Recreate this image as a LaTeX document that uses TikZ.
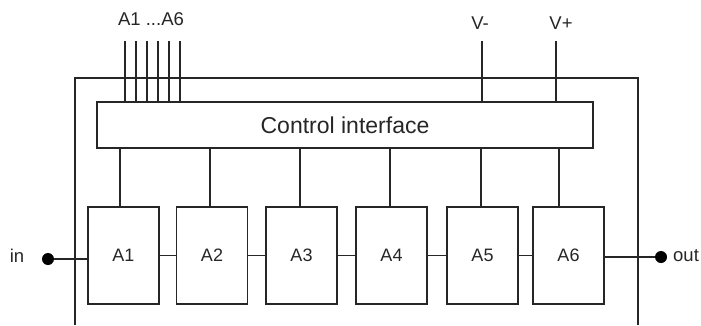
\documentclass[tikz,border=0pt]{standalone}
\usepackage{fontspec}
\setmainfont{Liberation Sans}
\begin{document}
\begin{tikzpicture}[x=1pt,y=-1pt,
  wire/.style={draw=black!85,line width=1.1pt},
  extwire/.style={draw=black!85,line width=1.6pt},
  stage/.style={draw=black!85,line width=1.1pt,minimum width=71pt,minimum height=97pt,
    inner sep=0pt,font=\fontsize{18}{18}\selectfont,text=black!85},
  ctrlbox/.style={draw=black!85,line width=1.1pt,minimum width=496pt,minimum height=46pt,
    inner sep=0pt,font=\fontsize{23}{23}\selectfont,text=black!85},
  lbl/.style={inner sep=0pt,font=\fontsize{18.5}{18.5}\selectfont,text=black!85},
  port/.style={circle,fill=black,inner sep=0pt,minimum size=12pt}]
\useasboundingbox (0,0) rectangle (701,325);

% housing (open at the bottom)
\draw[wire] (75,325) -- (75,78) -- (638,78) -- (638,325);

% control interface
\node[ctrlbox] (ctrl) at (345,125) {Control interface};

% amplifier stages
\node[stage] (A1) at (123.5,255.5) {A1};
\node[stage] (A2) at (212,255.5) {A2};
\node[stage] (A3) at (301.5,255.5) {A3};
\node[stage] (A4) at (391.5,255.5) {A4};
\node[stage] (A5) at (482.5,255.5) {A5};
\node[stage] (A6) at (568.5,255.5) {A6};

% chain between stages
\foreach \a/\b in {A1/A2,A2/A3,A3/A4,A4/A5,A5/A6}
  \draw[wire] (\a.east) -- (\b.west);

% control taps to each stage
\foreach \s/\x in {A1/120,A2/210,A3/300,A4/390,A5/481,A6/559}{
  \coordinate (t\s) at (\x,0);
  \draw[wire] (t\s |- ctrl.south) -- (t\s |- \s.north);
}

% control inputs A1...A6
\node[lbl] (alab) at (151,19) {A1 ...A6};
\foreach \i/\x in {1/125,2/136,3/147,4/158,5/169,6/180}{
  \coordinate (c\i) at (\x,41);
  \draw[wire] (c\i) -- (c\i |- ctrl.north);
}

% supply
\node[lbl] (vm) at (480,23) {V-};
\node[lbl] (vp) at (561,23) {V+};
\coordinate (vmtop) at (482,41);
\coordinate (vptop) at (556,41);
\draw[wire] (vmtop) -- (vmtop |- ctrl.north);
\draw[wire] (vptop) -- (vptop |- ctrl.north);

% signal in / out
\node[port] (pin) at (48,259) {};
\node[port] (pout) at (661,257) {};
\node[lbl] (inlbl) at (17,256) {in};
\node[lbl,anchor=west] (outlbl) at (673,256) {out};
\coordinate (hin) at (75,259);
\coordinate (hout) at (638,257);
\draw[extwire] (pin) -- (hin);
\draw[wire] (hin) -- (A1.west |- hin);
\draw[wire] (A6.east |- hout) -- (hout);
\draw[extwire] (hout) -- (pout);
\end{tikzpicture}
\end{document}
